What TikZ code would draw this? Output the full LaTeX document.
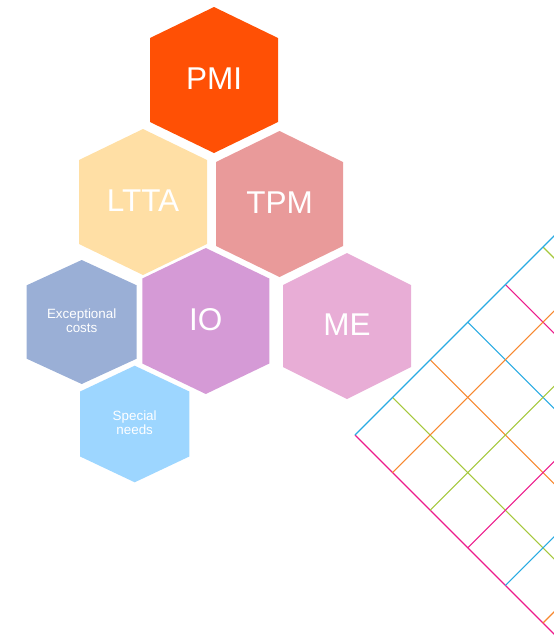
\documentclass[tikz,border=0pt]{standalone}
\usepackage{fontspec}
\setmainfont{Liberation Sans}
\usetikzlibrary{backgrounds}
\definecolor{cPMI}{HTML}{FF5005}
\definecolor{cLTTA}{HTML}{FFDFA5}
\definecolor{cTPM}{HTML}{E99A9A}
\definecolor{cIO}{HTML}{D59AD6}
\definecolor{cME}{HTML}{E8ADD6}
\definecolor{cEXC}{HTML}{9AAFD6}
\definecolor{cSPN}{HTML}{9DD6FF}
\definecolor{gBlue}{HTML}{29ABE2}
\definecolor{gPink}{HTML}{EC1C8C}
\definecolor{gOrange}{HTML}{F7882F}
\definecolor{gGreen}{HTML}{A5C83C}
% #1 node name, #2 half width, #3 half height, #4 half side, #5 colour
\newcommand\hexfill[5]{%
  \fill[#5] (#1.center) ++(0,-#3) -- ++(#2,#3-#4) -- ++(0,2*#4)
    -- ++(-#2,#3-#4) -- ++(-#2,-#3+#4) -- ++(0,-2*#4) -- cycle;}
\begin{document}
\begin{tikzpicture}[x=1pt,y=-1pt,
  lbl/.style={text=white, inner sep=0pt, align=center},
  big/.style={lbl, font=\fontsize{31.5}{36}\selectfont},
  small/.style={lbl, font=\fontsize{13.4}{14}\selectfont},
  gl/.style={line width=1.1pt}]
\useasboundingbox (0,0) rectangle (554,641);
% grid
\begin{scope}
  \clip (0,0) rectangle (554,641);
  \coordinate (O) at (355,435);
  \foreach \k/\c in {1/gGreen,2/gOrange,3/gBlue,4/gPink,5/gGreen,0/gPink}
    \draw[gl,\c] (O) ++(37.6*\k,-37.6*\k) -- ++(400,400);
  \foreach \k/\c in {1/gOrange,2/gGreen,3/gPink,4/gBlue,5/gOrange,0/gBlue}
    \draw[gl,\c] (O) ++(37.6*\k,37.6*\k) -- ++(400,-400);
\end{scope}
% labels
\node[big] (pmi) at (214,79) {PMI};
\node[big] (ltta) at (143,201) {LTTA};
\node[big] (tpm) at (279.5,203) {TPM};
\node[big] (io) at (205.8,320) {IO};
\node[big] (me) at (347,325) {ME};
\node[small] (exc) at (81.7,321) {Exceptional\\costs};
\node[small] (spn) at (134.7,423) {Special\\needs};
\begin{pgfonlayer}{background}
  \fill[cPMI] (pmi.center) ++(0,1) ++(0,-73) -- ++(64,31) -- ++(0,84) -- ++(-64,31) -- ++(-64,-31) -- ++(0,-84) -- cycle;
  \fill[cLTTA] (ltta.center) ++(0,1) ++(0,-73) -- ++(64,31) -- ++(0,84) -- ++(-64,31) -- ++(-64,-31) -- ++(0,-84) -- cycle;
  \fill[cTPM] (tpm.center) ++(0,1) ++(0,-73) -- ++(63.5,31) -- ++(0,84) -- ++(-63.5,31) -- ++(-63.5,-31) -- ++(0,-84) -- cycle;
  \fill[cIO] (io.center) ++(0,1) ++(0,-73) -- ++(63.5,30.5) -- ++(0,85) -- ++(-63.5,30.5) -- ++(-63.5,-30.5) -- ++(0,-85) -- cycle;
  \fill[cME] (me.center) ++(0,1) ++(0,-73) -- ++(64,32) -- ++(0,82) -- ++(-64,32) -- ++(-64,-32) -- ++(0,-82) -- cycle;
  \fill[cEXC] (exc.center) ++(0,1) ++(0,-62) -- ++(55,25.3) -- ++(0,73.4) -- ++(-55,25.3) -- ++(-55,-25.3) -- ++(0,-73.4) -- cycle;
  \fill[cSPN] (spn.center) ++(0,1) ++(0,-58.3) -- ++(54.6,25.8) -- ++(0,65) -- ++(-54.6,25.8) -- ++(-54.6,-25.8) -- ++(0,-65) -- cycle;
\end{pgfonlayer}
\end{tikzpicture}
\end{document}
